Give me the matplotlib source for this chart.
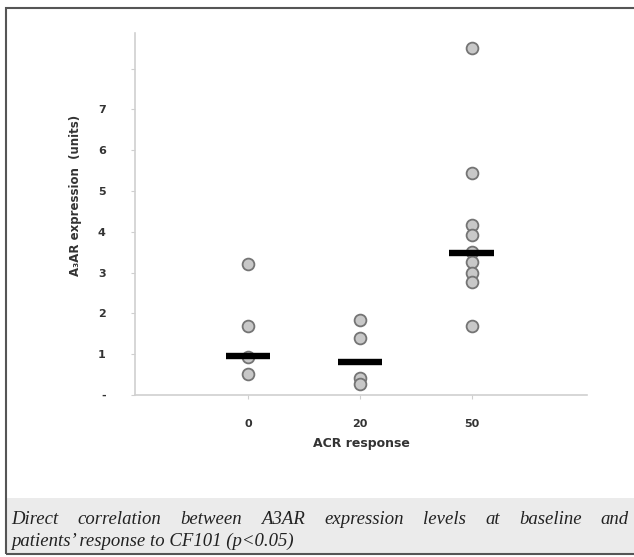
import matplotlib
matplotlib.use("Agg")
import matplotlib.pyplot as plt
from matplotlib.patches import Rectangle

# ---------------------------------------------------------------------------
# DATA
# ---------------------------------------------------------------------------
groups = ["0", "20", "50"]
acr0 = [3.2, 1.7, 0.92, 0.52]
acr20 = [1.83, 1.4, 0.42, 0.28]
acr50 = [8.5, 5.45, 4.17, 3.92, 3.5, 3.27, 2.98, 2.78, 1.7]
medians = [0.95, 0.8, 3.48]
ytick_vals = [0, 1, 2, 3, 4, 5, 6, 7, 8]
ytick_labels = ["-", "1", "2", "3", "4", "5", "6", "7", ""]
caption_lines = [
    "Direct correlation between A3AR expression levels at baseline and",
    "patients\u2019 response to CF101 (p<0.05)",
]

# ---------------------------------------------------------------------------
# FIGURE
# ---------------------------------------------------------------------------
W, H = 634, 557
fig = plt.figure(figsize=(W / 100, H / 100), dpi=100)
fig.patch.set_facecolor("white")

ax = fig.add_axes([135 / W, 1 - 395 / H, (587 - 135) / W, (395 - 33) / H])
ax.set_facecolor("white")

for i, vals in enumerate([acr0, acr20, acr50]):
    ax.scatter([i] * len(vals), vals, s=72, facecolor="#c8c8c8",
               edgecolor="#747474", linewidth=1.3, zorder=3)
    ax.plot([i - 0.2, i + 0.2], [medians[i]] * 2, color="black",
            linewidth=4.6, solid_capstyle="butt", zorder=4)

ax.set_xlim(-1.01, 3.03)
ax.set_ylim(0, 8.87)

ax.set_xticks(range(len(groups)))
ax.set_xticklabels(groups, fontsize=8, fontweight="bold", color="#333333")
ax.set_yticks(ytick_vals)
ax.set_yticklabels(ytick_labels, fontsize=8, fontweight="bold", color="#333333")
ax.tick_params(axis="both", colors="#cfcfcf", labelcolor="#333333", length=3)
ax.tick_params(axis="y", pad=18)
ax.tick_params(axis="x", pad=14)

for side in ["top", "right"]:
    ax.spines[side].set_visible(False)
for side in ["left", "bottom"]:
    ax.spines[side].set_color("#d0d0d0")
    ax.spines[side].set_linewidth(1.2)

ax.set_xlabel("ACR response", fontsize=9, fontweight="bold", color="#333333", labelpad=6)
fig.text(75 / W, 1 - 195 / H, "A\u2083AR expression  (units)", rotation=90,
         ha="center", va="center", fontsize=8.5, fontweight="bold", color="#333333")

# caption band
fig.add_artist(Rectangle((7 / W, 1 - 553 / H), (W - 7) / W, (553 - 498) / H,
                         transform=fig.transFigure, facecolor="#ebebeb",
                         edgecolor="none", zorder=0))

# outer frame
fig.add_artist(Rectangle((6 / W, 1 - 554 / H), (W - 4) / W, (554 - 8) / H,
                         transform=fig.transFigure, facecolor="none",
                         edgecolor="#555555", linewidth=1.5, zorder=5))

# justified first caption line
fig.canvas.draw()
renderer = fig.canvas.get_renderer()
cap_kw = dict(fontsize=13.5, style="italic", family="Liberation Serif", color="#222222",
              va="center", ha="left")
left, right = 11, 629
words = caption_lines[0].split()
texts = [fig.text(0, 0, w, **cap_kw) for w in words]
widths = [t.get_window_extent(renderer).width for t in texts]
gap = (right - left - sum(widths)) / (len(words) - 1)
x = left
for t, w in zip(texts, widths):
    t.set_position((x / W, 1 - 519 / H))
    x += w + gap
fig.text(left / W, 1 - 541 / H, caption_lines[1], **cap_kw)

fig.savefig("out.png", dpi=100, facecolor="white")
